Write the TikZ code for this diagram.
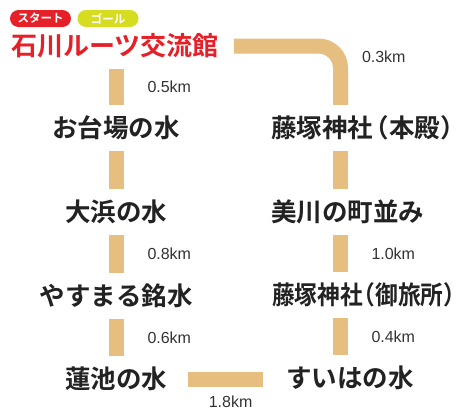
\documentclass[tikz,border=0pt]{standalone}
\usepackage{fontspec}
\setmainfont{Liberation Sans}
\newfontfamily\jpfont{Noto Sans CJK JP}[BoldFont={Noto Sans CJK JP Bold}]
\newfontfamily\jpnarrow{Noto Sans CJK JP}[BoldFont={Noto Sans CJK JP Bold}, FakeStretch=0.89]
\usepackage{tikz}
\definecolor{titlered}{RGB}{230,32,40}
\definecolor{goalgreen}{RGB}{214,220,32}
\definecolor{routetan}{RGB}{230,190,128}
\definecolor{inkgray}{RGB}{34,34,34}
\definecolor{kmgray}{RGB}{51,51,51}

\begin{document}
\begin{tikzpicture}[x=1pt,y=-1pt,
  badge/.style={rounded corners=8.5pt, minimum width=61pt, minimum height=17pt, inner sep=0,
    text=white, font=\jpfont\bfseries\fontsize{11.5}{12}\selectfont},
  spot/.style={minimum height=46pt, inner sep=0, text=inkgray,
    font=\jpfont\bfseries\fontsize{25.5}{26}\selectfont},
  route/.style={draw=routetan, line width=15pt},
  dist/.style={inner sep=0, outer sep=0, text=kmgray, font=\fontsize{16}{17}\selectfont}]
\useasboundingbox (0,0) rectangle (457,410);
% column lines
\coordinate (lx) at (116.5,0);
\coordinate (rx) at (340.5,0);
%%% start / goal
\node[badge, fill=titlered] (start) at (40.5,18.5) {スタート};
\node[badge, fill=goalgreen] (goal) at (108,18.5) {ゴール};
\node[spot, anchor=west, text=titlered, font=\jpfont\bfseries\fontsize{26}{27}\selectfont] (kan) at (11,46) {石川ルーツ交流館};
%%% left column
\node[spot] (oda) at (116,128) {お台場の水};
\node[spot] (ohama) at (116,212) {大浜の水};
\node[spot] (yasu) at (116,296) {やすまる銘水};
\node[spot] (hasu) at (116,379) {蓮池の水};
%%% right column
\node[spot, anchor=west] (honden) at (271,128) {藤塚神社\kern-.37em（本殿）\kern-.5em};
\node[spot, anchor=west] (mikawa) at (271,212) {美川の町並み};
\node[spot, anchor=west, font=\jpnarrow\bfseries\fontsize{25.5}{26}\selectfont] (otabi) at (272,295) {藤塚神社\kern-.4em（御旅所）\kern-.5em};
\node[spot] (suiha) at (350,378) {すいはの水};
% route bars
\draw[route, rounded corners=22pt, shorten <=15pt] (kan.east) -| (honden.north -| rx);
\node[dist, anchor=west] (km03) at (362,57) {0.3km};
\draw[route] (kan.south -| lx) -- node[dist, right=31pt] (km05) {0.5km} (oda.north -| lx);
\draw[route] (oda.south -| lx) -- (ohama.north -| lx);
\draw[route] (ohama.south -| lx) -- node[dist, right=31pt] (km08) {0.8km} (yasu.north -| lx);
\draw[route] (yasu.south -| lx) -- node[dist, right=31pt] (km06) {0.6km} (hasu.north -| lx);
\draw[route, shorten <=21pt, shorten >=23pt] (hasu.east) -- node[dist, below=17pt, xshift=4pt] (km18) {1.8km} (suiha.west |- hasu.east);
\draw[route] (honden.south -| rx) -- (mikawa.north -| rx);
\draw[route] (mikawa.south -| rx) -- node[dist, right=31pt] (km10) {1.0km} (otabi.north -| rx);
\draw[route] (otabi.south -| rx) -- node[dist, right=31pt] (km04) {0.4km} (suiha.north -| rx);
\end{tikzpicture}
\end{document}
